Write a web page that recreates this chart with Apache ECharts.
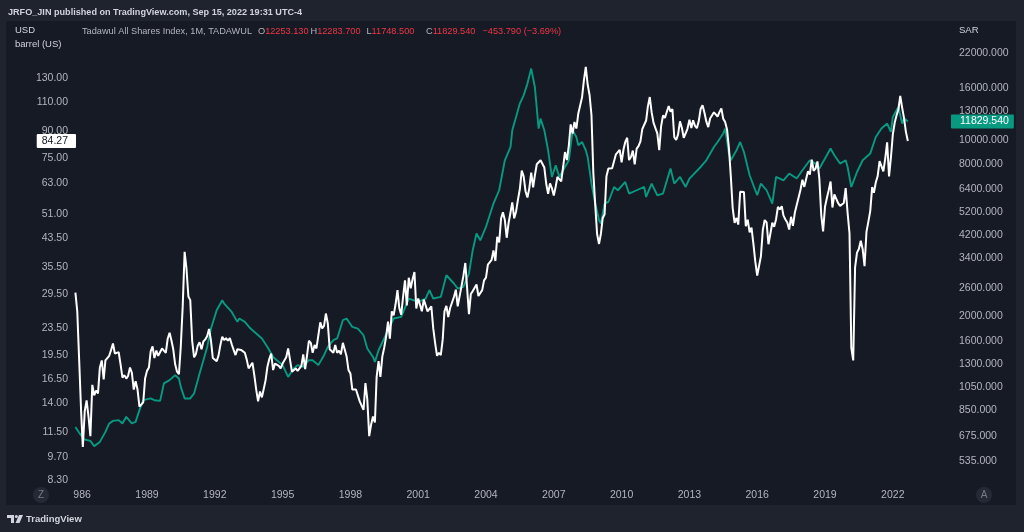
<!DOCTYPE html>
<html><head><meta charset="utf-8">
<script src="https://cdn.jsdelivr.net/npm/echarts@6/dist/echarts.min.js"></script>
<style>html,body{margin:0;padding:0;background:#1f232d}#c{width:1024px;height:532px}</style>
</head><body><div id="c"></div>
<script>
// ---------- DATA ----------
// WTI crude oil, monthly close, USD / barrel, starting Nov 1985
const oilStart = [1985, 11];
const oilClose = [
  29.9, 26.3,
  18.8, 13.3, 10.4, 13.3, 14.3, 12.8, 11.2, 15.9, 14.8, 15.3, 15.0, 17.9,
  18.8, 16.5, 18.8, 18.7, 19.4, 20.2, 21.1, 19.7, 19.6, 19.9, 18.3, 16.7,
  17.0, 16.6, 16.9, 17.9, 17.3, 15.4, 16.3, 15.4, 13.7, 13.6, 14.1, 16.6,
  17.5, 17.9, 20.0, 20.7, 19.1, 20.1, 19.4, 19.2, 20.4, 20.1, 19.8, 21.8,
  22.7, 21.5, 20.3, 18.3, 17.4, 17.1, 20.7, 27.2, 39.5, 35.2, 29.1, 28.4,
  21.5, 19.2, 19.6, 20.8, 21.3, 20.3, 21.4, 21.7, 22.2, 23.3, 21.5, 19.1,
  18.9, 18.7, 19.4, 20.9, 22.1, 21.6, 21.9, 21.5, 21.9, 21.0, 20.2, 19.5,
  20.3, 20.4, 20.2, 20.4, 19.8, 18.9, 17.8, 18.0, 18.5, 17.0, 15.4, 14.2,
  15.2, 14.6, 14.7, 16.4, 18.0, 19.0, 19.7, 17.6, 18.4, 18.2, 18.1, 17.8,
  18.4, 18.5, 19.2, 20.4, 18.9, 17.4, 17.6, 17.8, 17.5, 17.6, 18.1, 19.6,
  17.7, 19.5, 21.5, 21.2, 19.8, 20.9, 20.4, 22.3, 24.4, 23.4, 23.8, 25.9,
  24.2, 20.3, 20.4, 19.8, 20.9, 19.8, 20.1, 19.6, 21.2, 21.1, 19.3, 17.6,
  17.2, 15.4, 15.6, 15.4, 15.2, 14.2, 14.2, 13.4, 16.1, 14.4, 11.2, 12.1,
  12.8, 12.3, 16.8, 18.7, 16.8, 19.3, 20.5, 22.1, 24.5, 21.8, 26.3, 25.6,
  27.6, 30.4, 26.9, 25.7, 29.0, 32.5, 27.4, 33.1, 30.8, 32.7, 34.4, 26.8,
  28.7, 27.4, 26.3, 28.5, 28.4, 26.3, 26.4, 27.2, 23.4, 21.2, 19.4, 19.8,
  19.5, 21.7, 26.3, 27.3, 25.3, 26.9, 27.0, 29.0, 30.5, 27.2, 26.9, 31.2,
  33.5, 36.6, 31.0, 25.8, 29.6, 30.2, 30.5, 31.6, 29.2, 29.1, 30.4, 32.5,
  33.1, 36.2, 35.8, 37.4, 39.9, 37.1, 43.8, 42.1, 49.6, 51.8, 49.1, 43.5,
  48.2, 51.8, 55.4, 49.7, 52.0, 56.5, 60.6, 68.9, 66.2, 59.8, 57.3, 61.0,
  67.9, 61.4, 66.6, 71.9, 71.3, 73.9, 74.4, 70.3, 62.9, 58.7, 63.1, 61.1,
  58.1, 61.8, 65.9, 65.7, 64.0, 70.7, 78.2, 74.0, 81.7, 94.5, 88.7, 96.0,
  91.8, 101.8, 101.6, 113.5, 127.4, 140.0, 124.1, 115.5, 100.6, 67.8, 54.4, 44.6,
  41.7, 44.8, 49.7, 51.1, 66.3, 69.9, 69.5, 70.0, 70.6, 77.0, 77.3, 79.4,
  72.9, 79.7, 83.8, 86.2, 74.0, 75.6, 79.0, 71.9, 80.0, 81.4, 84.1, 91.4,
  92.2, 97.0, 106.7, 113.9, 102.7, 95.4, 95.7, 88.8, 79.2, 93.2, 100.4, 98.8,
  98.5, 107.1, 103.0, 104.9, 86.5, 85.0, 88.1, 96.5, 92.2, 86.2, 88.9, 91.8,
  97.5, 92.1, 97.2, 93.5, 92.0, 96.6, 105.0, 107.7, 102.3, 96.4, 92.7, 98.4,
  97.5, 102.6, 101.6, 99.7, 102.7, 105.4, 98.2, 96.0, 91.2, 80.5, 66.2, 53.3,
  48.2, 49.8, 47.6, 59.6, 60.3, 59.5, 47.1, 49.2, 45.1, 46.6, 41.7, 37.0,
  33.6, 33.8, 38.3, 45.9, 49.1, 48.3, 41.6, 44.7, 48.2, 46.9, 49.4, 53.7,
  52.8, 54.0, 50.6, 49.3, 48.3, 46.0, 50.2, 47.2, 51.7, 54.4, 57.4, 60.4,
  64.7, 61.6, 64.9, 68.6, 67.0, 74.2, 68.8, 69.8, 73.3, 65.3, 50.9, 45.4,
  53.8, 57.2, 60.1, 63.9, 53.5, 58.5, 58.6, 55.1, 54.1, 54.2, 55.2, 61.1,
  51.6, 44.8, 20.5, 18.8, 35.5, 39.3, 40.3, 42.6, 40.2, 35.8, 45.3, 48.5,
  52.2, 61.5, 59.2, 63.6, 66.3, 73.5, 74.0, 68.5, 75.0, 83.6, 66.2, 75.2,
  88.2, 95.7, 100.3, 104.7, 114.7, 105.8, 98.6, 89.6, 84.27
];

// Tadawul All Shares Index (SAR)
const tasiDates = [
  '1985-11','1986-01','1986-04','1986-07','1986-09','1986-12','1987-01','1987-03','1987-05','1987-07',
  '1987-10','1987-12','1988-02','1988-05','1988-07','1988-09','1988-11','1989-03','1989-05','1989-08',
  '1989-10','1990-01','1990-04','1990-06','1990-07','1990-09','1990-12','1991-02','1991-05','1991-09',
  '1991-11','1992-02','1992-05','1992-06','1992-10','1993-01','1993-02','1993-05','1993-08','1993-09',
  '1994-02','1994-05','1994-08','1994-10','1995-01','1995-04','1995-07','1995-09','1995-12','1996-03',
  '1996-05','1996-08','1996-11','1997-01','1997-04','1997-06','1997-09','1997-11','1998-02','1998-05',
  '1998-08','1998-10','1999-01','1999-02','1999-04','1999-09','1999-12','2000-04','2000-08','2001-01',
  '2001-05','2001-07','2001-09','2002-01','2002-04','2002-08','2002-10','2003-01','2003-04','2003-06',
  '2003-08','2003-10','2004-01','2004-05','2004-08','2004-11','2005-02','2005-03','2005-05','2005-07',
  '2005-09','2005-11','2006-01','2006-02','2006-03','2006-05','2006-06','2006-08','2006-10','2006-12',
  '2007-02','2007-04','2007-07','2007-09','2007-11','2008-01','2008-02','2008-04','2008-06','2008-07',
  '2008-09','2008-11','2009-01','2009-02','2009-04','2009-06','2009-09','2009-11','2010-03','2010-05',
  '2010-09','2011-01','2011-02','2011-05','2011-08','2011-11','2012-03','2012-05','2012-08','2012-11',
  '2013-01','2013-07','2013-10','2014-02','2014-04','2014-07','2014-08','2014-10','2014-11','2015-02',
  '2015-04','2015-06','2015-09','2016-01','2016-03','2016-06','2016-09','2016-11','2017-03','2017-06',
  '2017-10','2018-01','2018-05','2018-08','2018-10','2019-01','2019-04','2019-06','2019-09','2019-12',
  '2020-01','2020-03','2020-06','2020-09','2021-01','2021-04','2021-07','2021-10','2021-12','2022-01',
  '2022-04','2022-06','2022-07','2022-09'
];
const tasiClose = [
  731, 693, 652, 644, 614, 638, 632, 699, 755, 773,
  778, 755, 802, 755, 766, 852, 933, 948, 933, 927,
  1087, 1120, 1172, 1137, 1053, 948, 948, 992, 1190, 1516,
  1792, 2118, 2321, 2251, 2085, 1904, 1964, 1904, 1792, 1765,
  1637, 1516, 1384, 1343, 1284, 1154, 1245, 1284, 1264, 1343,
  1343, 1284, 1406, 1516, 1612, 1637, 1934, 1964, 1819, 1792,
  1686, 1494, 1384, 1322, 1471, 1765, 1964, 1993, 2356, 2283,
  2356, 2541, 2356, 2391, 2912, 2702, 2580, 2620, 2959, 3659,
  4259, 4006, 4523, 5597, 6318, 8303, 9372, 10910, 12316, 13915,
  15006, 16694, 19140, 19420, 16185, 11082, 12137, 10910, 9095, 7130,
  7934, 7130, 7810, 8303, 10910, 10265, 9518, 9808, 9095, 8556,
  6714, 5597, 4808, 4664, 5597, 5678, 6510, 6318, 6813, 6131,
  6318, 6510, 5944, 6714, 6037, 6131, 7698, 6714, 7130, 6510,
  7027, 7810, 8303, 9372, 9808, 10589, 11082, 8824, 8303, 9095,
  9808, 8954, 7242, 6037, 6714, 6318, 5597, 7130, 6920, 7355,
  7027, 7580, 8303, 8057, 7698, 8432, 9235, 8690, 8057, 8303,
  7810, 6510, 7463, 8303, 8824, 10265, 11082, 11598, 10743, 12316,
  13490, 11598, 12171, 11829.54
];

const leftTicks = [8.3, 9.7, 11.5, 14, 16.5, 19.5, 23.5, 29.5, 35.5, 43.5, 51, 63, 75, 90, 110, 130];
const rightTicks = [535, 675, 850, 1050, 1300, 1600, 2000, 2600, 3400, 4200, 5200, 6400, 8000, 10000, 13000, 16000, 22000];
const yearTicks = [1986, 1989, 1992, 1995, 1998, 2001, 2004, 2007, 2010, 2013, 2016, 2019, 2022];

const titleText = 'JRFO_JIN published on TradingView.com, Sep 15, 2022 19:31 UTC-4';
const seriesName = 'Tadawul All Shares Index, 1M, TADAWUL';
const ohlcKeys = ['O', 'H', 'L', 'C'];
const ohlcVals = ['12253.130', '12283.700', '11748.500', '11829.540'];
const change = '\u2212453.790 (\u22123.69%)';

// ---------- BUILD ----------
const FONT = 'Liberation Sans, Arial, sans-serif';
const monthMs = s => { const p = s.split('-').map(Number); return Date.UTC(p[0], p[1] - 1, 1); };
const YEAR_MS = 365.25 * 864e5;
const yearMs = f => Date.UTC(Math.floor(f), 0, 1) + (f - Math.floor(f)) * YEAR_MS;
const X_MIN = 1985.77, X_MAX = 2024.531;

const oilData = oilClose.map((v, i) => [Date.UTC(oilStart[0], oilStart[1] - 1 + i, 1), v]);
const tasiData = tasiDates.map((d, i) => [monthMs(d), tasiClose[i]]);
const lastOil = oilClose[oilClose.length - 1];
const lastTasi = tasiClose[tasiClose.length - 1];

const chart = echarts.init(document.getElementById('c'), null, { renderer: 'canvas' });
const axisLabelBase = { color: '#b2b5be', fontSize: 10.5, fontFamily: FONT };
const hidden = { axisLine: { show: false }, axisTick: { show: false }, splitLine: { show: false } };

// header legend pieces (x positions are layout only)
const legendX = [258, 310.5, 366.5, 426];
const legendGraphics = [
  { type: 'text', x: 82, y: 26.5, style: { text: seriesName, fill: '#b2b5be', font: '9.2px ' + FONT } }
];
ohlcKeys.forEach((k, i) => legendGraphics.push({
  type: 'text', x: legendX[i], y: 26.5,
  style: { text: '{k|' + k + '}{v|' + ohlcVals[i] + '}', rich: { k: { fill: '#b2b5be', font: '9.2px ' + FONT }, v: { fill: '#f23645', font: '9.2px ' + FONT } }, font: '9.2px ' + FONT }
}));
legendGraphics.push({ type: 'text', x: 482.5, y: 26.5, style: { text: change, fill: '#f23645', font: '9.2px ' + FONT } });

const priceTag = (value, text, pos, dist, bg, fg, pad) => ({
  silent: true, symbol: ['none', 'none'], animation: false,
  lineStyle: { color: 'rgba(0,0,0,0)', width: 0, type: 'solid' },
  data: [{ yAxis: value }],
  label: {
    show: true, position: pos, distance: dist, opacity: 1,
    formatter: text,
    backgroundColor: bg, color: fg, padding: pad,
    fontSize: 10.5, fontFamily: FONT, borderRadius: 1
  }
});

chart.setOption({
  backgroundColor: '#1f232d',
  animation: false,
  grid: { left: 74, right: 74, top: 21, bottom: 48 },
  xAxis: [
    Object.assign({ type: 'time', min: yearMs(X_MIN), max: yearMs(X_MAX), axisLabel: { show: false } }, hidden),
    Object.assign({
      type: 'value', position: 'bottom', min: X_MIN, max: X_MAX,
      axisLabel: Object.assign({}, axisLabelBase, {
        customValues: yearTicks, margin: 6,
        formatter: v => { const y = Math.round(v); return y === 1986 ? '{h|1}986' : String(y); },
        rich: { h: { color: 'rgba(0,0,0,0)', fontSize: 10.5, fontFamily: FONT } }
      })
    }, hidden)
  ],
  yAxis: [
    Object.assign({
      type: 'log', logBase: 10, min: 8.072, max: 191.6, position: 'left',
      axisLabel: Object.assign({}, axisLabelBase, { customValues: leftTicks, margin: 6, formatter: v => Number(v).toFixed(2) })
    }, hidden),
    Object.assign({
      type: 'log', logBase: 10, min: 434.8, max: 29530, position: 'right',
      axisLabel: Object.assign({}, axisLabelBase, { customValues: rightTicks, margin: 9, formatter: v => Number(v).toFixed(3) })
    }, hidden)
  ],
  series: [
    {
      name: seriesName, type: 'line', xAxisIndex: 0, yAxisIndex: 1, data: tasiData, clip: false,
      showSymbol: false, symbol: 'none', lineStyle: { color: '#089981', width: 1.9 }, z: 2,
      markLine: priceTag(lastTasi, lastTasi.toFixed(3), 'end', 1, '#089981', '#ffffff', [2, 5, 1, 9])
    },
    {
      name: 'USD barrel (US)', type: 'line', xAxisIndex: 0, yAxisIndex: 0, data: oilData, clip: false,
      showSymbol: false, symbol: 'none', lineStyle: { color: '#ffffff', width: 2 }, z: 3,
      markLine: priceTag(lastOil, lastOil.toFixed(2), 'start', -2, '#ffffff', '#131722', [2, 8, 1, 5])
    }
  ],
  graphic: [
    { type: 'rect', z: -10, shape: { x: 6, y: 21, width: 1010, height: 484 }, style: { fill: '#161a25' } },
    { type: 'text', x: 8, y: 7.5, style: { text: titleText, fill: '#d1d4dc', font: 'bold 9.1px ' + FONT } },
    { type: 'text', x: 15, y: 25.5, style: { text: 'USD', fill: '#d1d4dc', font: '9.5px ' + FONT } },
    { type: 'text', x: 15, y: 39, style: { text: 'barrel (US)', fill: '#d1d4dc', font: '9.5px ' + FONT } },
    { type: 'text', x: 959, y: 25.5, style: { text: 'SAR', fill: '#d1d4dc', font: '9.5px ' + FONT } },
    { type: 'circle', shape: { cx: 41, cy: 495, r: 8 }, style: { fill: '#252936' } },
    { type: 'text', x: 41, y: 495, style: { text: 'Z', fill: '#787b86', font: '10px ' + FONT, align: 'center', verticalAlign: 'middle' } },
    { type: 'circle', shape: { cx: 984, cy: 495, r: 8 }, style: { fill: '#252936' } },
    { type: 'text', x: 984, y: 495, style: { text: 'A', fill: '#787b86', font: '10px ' + FONT, align: 'center', verticalAlign: 'middle' } },
    { type: 'polygon', shape: { points: [[7, 515], [14, 515], [14, 523], [11, 523], [11, 518], [7, 518]] }, style: { fill: '#d1d4dc' } },
    { type: 'circle', shape: { cx: 16.3, cy: 516.5, r: 1.5 }, style: { fill: '#d1d4dc' } },
    { type: 'polygon', shape: { points: [[19, 515], [23, 515], [19.5, 523], [15.5, 523]] }, style: { fill: '#d1d4dc' } },
    { type: 'text', x: 26, y: 514, style: { text: 'TradingView', fill: '#d1d4dc', font: 'bold 9.5px ' + FONT } }
  ].concat(legendGraphics)
});
</script>
</body></html>
